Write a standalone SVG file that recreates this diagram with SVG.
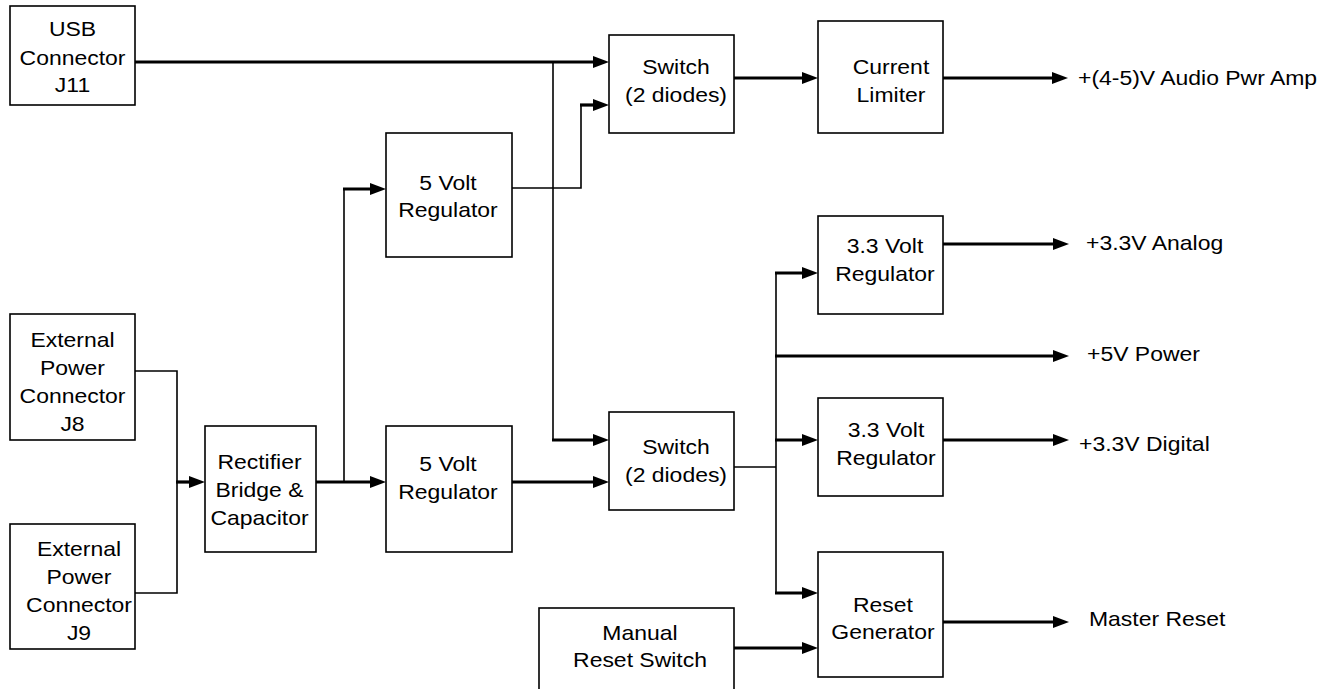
<svg xmlns="http://www.w3.org/2000/svg" width="1333" height="689" viewBox="0 0 1333 689">
<style>
.box{fill:#fff;stroke:#000;stroke-width:1.6}
.t{font-family:"Liberation Sans",Arial,sans-serif;font-size:20.5px;fill:#000;text-anchor:middle}
.l{font-family:"Liberation Sans",Arial,sans-serif;font-size:20.5px;fill:#000;text-anchor:start}
.thin{fill:none;stroke:#000;stroke-width:1.6}
.thick{fill:none;stroke:#000;stroke-width:3.2;marker-end:url(#ah)}
</style>
<defs>
<marker id="ah" markerUnits="userSpaceOnUse" markerWidth="16" markerHeight="12" refX="8" refY="6" orient="auto">
<path d="M0,0 L16,6 L0,12 z" fill="#000"/>
</marker>
</defs>
<rect width="1333" height="689" fill="#fff"/>
<g id="connectors">
<path class="thick" d="M135,62 H601"/>
<path class="thin" d="M512,188 H581 V105"/>
<path class="thick" d="M580,105 H601"/>
<path class="thick" d="M734,78 H810"/>
<path class="thick" d="M943,78 H1060"/>
<path class="thin" d="M553,62 V440"/>
<path class="thick" d="M552,440 H601"/>
<path class="thin" d="M135,371 H177 V593 H135"/>
<path class="thick" d="M176,482 H197"/>
<path class="thick" d="M316,482 H378"/>
<path class="thin" d="M344,482 V189"/>
<path class="thick" d="M343,189 H378"/>
<path class="thick" d="M512,482 H601"/>
<path class="thin" d="M734,467 H776"/>
<path class="thin" d="M776,273 V593"/>
<path class="thick" d="M775,273 H810"/>
<path class="thick" d="M775,356 H1061"/>
<path class="thick" d="M775,440 H810"/>
<path class="thick" d="M775,593 H810"/>
<path class="thick" d="M734,648 H810"/>
<path class="thick" d="M943,244 H1061"/>
<path class="thick" d="M943,440 H1061"/>
<path class="thick" d="M943,622 H1061"/>
</g>
<g id="usb">
<rect class="box" x="10" y="6" width="125" height="99"/>
<text class="t" transform="translate(72.5 0) scale(1.12 1)"><tspan x="0" y="36">USB</tspan><tspan x="0" y="65">Connector</tspan><tspan x="0" y="92">J11</tspan></text>
</g>
<g id="ext-j8">
<rect class="box" x="10" y="314" width="125" height="126"/>
<text class="t" transform="translate(72.5 0) scale(1.12 1)"><tspan x="0" y="347">External</tspan><tspan x="0" y="375">Power</tspan><tspan x="0" y="403">Connector</tspan><tspan x="0" y="431">J8</tspan></text>
</g>
<g id="ext-j9">
<rect class="box" x="10" y="524" width="125" height="125"/>
<text class="t" transform="translate(79 0) scale(1.12 1)"><tspan x="0" y="556">External</tspan><tspan x="0" y="584">Power</tspan><tspan x="0" y="612.5">Connector</tspan><tspan x="0" y="640">J9</tspan></text>
</g>
<g id="rectifier">
<rect class="box" x="205" y="426" width="111" height="126"/>
<text class="t" transform="translate(259.5 0) scale(1.12 1)"><tspan x="0" y="469">Rectifier</tspan><tspan x="0" y="497">Bridge &amp;</tspan><tspan x="0" y="525">Capacitor</tspan></text>
</g>
<g id="reg5-top">
<rect class="box" x="386" y="133" width="126" height="124"/>
<text class="t" transform="translate(448 0) scale(1.12 1)"><tspan x="0" y="190">5 Volt</tspan><tspan x="0" y="217">Regulator</tspan></text>
</g>
<g id="reg5-bottom">
<rect class="box" x="386" y="426" width="126" height="126"/>
<text class="t" transform="translate(448 0) scale(1.12 1)"><tspan x="0" y="471">5 Volt</tspan><tspan x="0" y="499">Regulator</tspan></text>
</g>
<g id="switch-top">
<rect class="box" x="609" y="35" width="125" height="98"/>
<text class="t" transform="translate(676 0) scale(1.12 1)"><tspan x="0" y="74">Switch</tspan><tspan x="0" y="102">(2 diodes)</tspan></text>
</g>
<g id="switch-bottom">
<rect class="box" x="609" y="412" width="125" height="98"/>
<text class="t" transform="translate(676 0) scale(1.12 1)"><tspan x="0" y="454">Switch</tspan><tspan x="0" y="482">(2 diodes)</tspan></text>
</g>
<g id="current-limiter">
<rect class="box" x="818" y="21" width="125" height="112"/>
<text class="t" transform="translate(891 0) scale(1.12 1)"><tspan x="0" y="74">Current</tspan><tspan x="0" y="102">Limiter</tspan></text>
</g>
<g id="reg33-analog">
<rect class="box" x="818" y="216" width="125" height="98"/>
<text class="t" transform="translate(885 0) scale(1.12 1)"><tspan x="0" y="253">3.3 Volt</tspan><tspan x="0" y="281">Regulator</tspan></text>
</g>
<g id="reg33-digital">
<rect class="box" x="818" y="398" width="125" height="98"/>
<text class="t" transform="translate(886 0) scale(1.12 1)"><tspan x="0" y="437">3.3 Volt</tspan><tspan x="0" y="465">Regulator</tspan></text>
</g>
<g id="reset-generator">
<rect class="box" x="818" y="552" width="125" height="125"/>
<text class="t" transform="translate(883 0) scale(1.12 1)"><tspan x="0" y="612">Reset</tspan><tspan x="0" y="639">Generator</tspan></text>
</g>
<g id="manual-reset">
<rect class="box" x="539" y="608" width="195" height="100"/>
<text class="t" transform="translate(640 0) scale(1.12 1)"><tspan x="0" y="640">Manual</tspan><tspan x="0" y="667">Reset Switch</tspan></text>
</g>
<g id="outputs">
<text class="l" transform="translate(1078 0) scale(1.12 1)" x="0" y="85.5">+(4-5)V Audio Pwr Amp</text>
<text class="l" transform="translate(1086 0) scale(1.12 1)" x="0" y="250.5">+3.3V Analog</text>
<text class="l" transform="translate(1087 0) scale(1.12 1)" x="0" y="361">+5V Power</text>
<text class="l" transform="translate(1079 0) scale(1.12 1)" x="0" y="451">+3.3V Digital</text>
<text class="l" transform="translate(1089 0) scale(1.12 1)" x="0" y="626">Master Reset</text>
</g>
</svg>
